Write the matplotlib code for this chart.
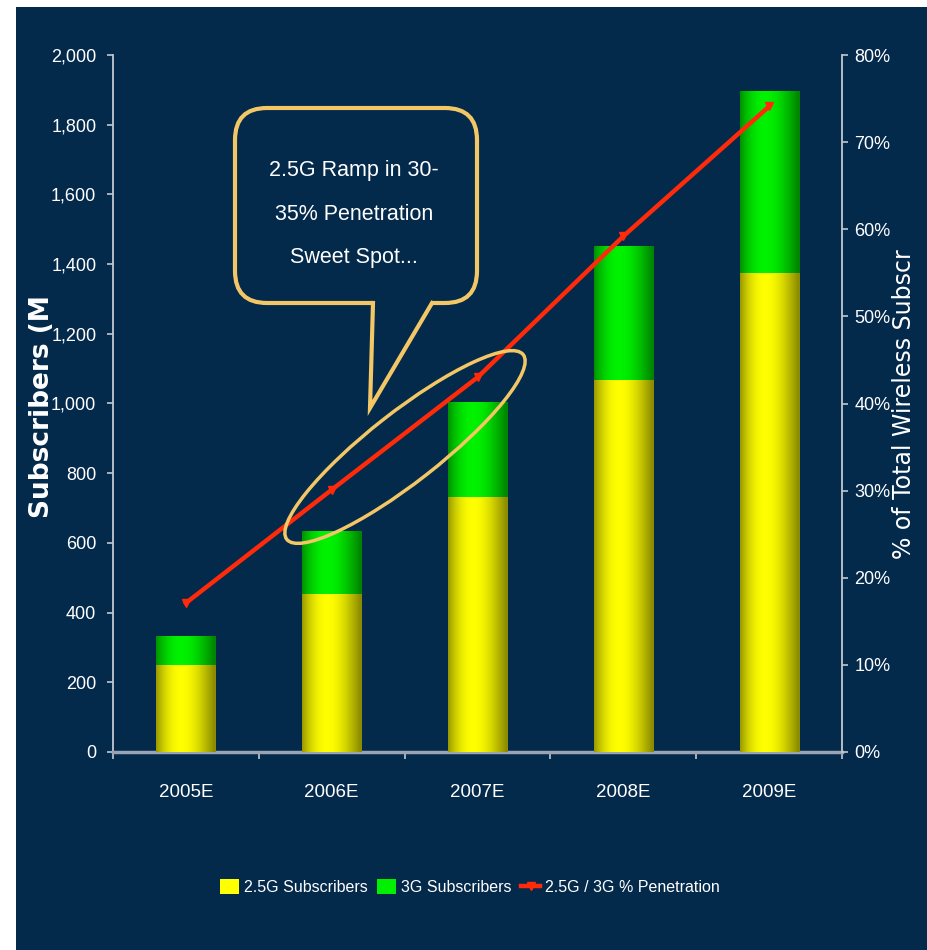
import numpy as np
import matplotlib
matplotlib.use("Agg")
import matplotlib.pyplot as plt
from matplotlib.patches import Rectangle, Ellipse, FancyBboxPatch, Polygon
from matplotlib.ticker import FuncFormatter, FixedLocator

# data
years = ["2005E", "2006E", "2007E", "2008E", "2009E"]
subs_25g = [250, 453, 732, 1067, 1374]
subs_3g = [83, 178, 272, 382, 520]
penetration = [17.1, 30.1, 43.0, 59.2, 74.1]

NAVY = "#03294b"
YELLOW = "#ffff00"
GREEN = "#00f000"
RED = "#ff2a0a"
GOLD = "#f3c766"
AXIS_GREY = "#c3c8d2"

plt.rcParams["font.family"] = ["Liberation Sans", "DejaVu Sans"]

fig = plt.figure(figsize=(9.27, 9.5), dpi=100, facecolor="white")
fig.patches.append(Rectangle((16 / 927, 0), 1, 1 - 7 / 950, transform=fig.transFigure,
                             facecolor=NAVY, edgecolor="none", zorder=-1))

ax = fig.add_axes([113 / 927, 1 - 752 / 950, (842 - 113) / 927, (752 - 55) / 950])
ax.set_facecolor(NAVY)
x = np.arange(len(years))
width = 0.405
b1 = ax.bar(x, subs_25g, width, color=YELLOW, label="2.5G Subscribers", zorder=2)
b2 = ax.bar(x, subs_3g, width, bottom=subs_25g, color=GREEN, label="3G Subscribers", zorder=2)


def shade_bars(bars, rgb):
    # cylinder-like horizontal shading on top of each bar
    t = np.linspace(0, 1, 64)
    f = 0.55 + 0.45 * np.sin(np.pi * np.clip((t + 0.02) / 1.0, 0, 1) ** 0.85)
    img = np.zeros((1, 64, 3))
    for i in range(3):
        img[0, :, i] = rgb[i] * f
    for p in bars:
        x0, y0 = p.get_x(), p.get_y()
        ax.imshow(img, extent=(x0, x0 + p.get_width(), y0, y0 + p.get_height()),
                  aspect="auto", zorder=3, interpolation="bilinear")


shade_bars(b1, (1.0, 1.0, 0.0))
shade_bars(b2, (0.0, 0.95, 0.0))

ax.set_xlim(-0.5, len(years) - 0.5)
ax.set_ylim(0, 2000)
ax.set_yticks(np.arange(0, 2001, 200))
ax.yaxis.set_major_formatter(FuncFormatter(lambda v, p: f"{int(v):,}"))
ax.set_xticks(x)
ax.set_xticklabels(years)
ax.xaxis.set_minor_locator(FixedLocator(np.arange(-0.5, len(years), 1.0)))
ax.tick_params(axis="x", which="major", length=0, pad=23, labelsize=13.5, labelcolor="white")
ax.tick_params(axis="x", which="minor", length=5, width=1.2, color=AXIS_GREY, direction="out")
ax.tick_params(axis="y", length=4, width=1.2, color=AXIS_GREY, labelsize=13,
               labelcolor="white", pad=8)
for s in ["top", "right"]:
    ax.spines[s].set_visible(False)
ax.spines["left"].set_color(AXIS_GREY)
ax.spines["left"].set_linewidth(1.3)
ax.spines["bottom"].set_color("#9aa3b5")
ax.spines["bottom"].set_linewidth(2.5)

ax2 = ax.twinx()
ax2.patch.set_visible(False)
line, = ax2.plot(x, penetration, color=RED, lw=3.2, marker="v", ms=6,
                 label="2.5G / 3G % Penetration", zorder=4)
ax2.set_ylim(0, 80)
ax2.set_yticks(np.arange(0, 81, 10))
ax2.yaxis.set_major_formatter(FuncFormatter(lambda v, p: f"{int(v)}%"))
ax2.tick_params(axis="y", length=4, width=1.2, color=AXIS_GREY, labelsize=13,
                labelcolor="white", pad=5)
for s in ["top", "left", "bottom"]:
    ax2.spines[s].set_visible(False)
ax2.spines["right"].set_color(AXIS_GREY)
ax2.spines["right"].set_linewidth(1.3)

fig.text(42 / 927, 1 - 407 / 950, "Subscribers (M", rotation=90, ha="center", va="center",
         color="white", fontsize=19, fontweight="bold", family=["DejaVu Sans"])
fig.text(904 / 927, 1 - 404 / 950, "% of Total Wireless Subscr", rotation=90, ha="center",
         va="center", color="white", fontsize=17, family=["DejaVu Sans"])

leg = fig.legend(handles=[b1, b2, line], loc="center", bbox_to_anchor=(470 / 927, 1 - 887 / 950),
                 ncol=3, frameon=False, fontsize=11.5, handlelength=1.2, handleheight=1.1,
                 handletextpad=0.3, columnspacing=0.6)
for t in leg.get_texts():
    t.set_color("white")

# callout and ellipse drawn in pixel space on a full-figure overlay
ov = fig.add_axes([0, 0, 1, 1], zorder=5)
ov.set_xlim(0, 927)
ov.set_ylim(950, 0)
ov.axis("off")
box = FancyBboxPatch((235, 108), 242, 195, boxstyle="round,pad=0,rounding_size=32",
                     facecolor=NAVY, edgecolor=GOLD, lw=3)
ov.add_patch(box)
ov.add_patch(Polygon([(373, 300), (432, 300), (370, 408)], closed=True,
                     facecolor=NAVY, edgecolor="none"))
ov.plot([373, 370, 432], [303, 408, 303], color=GOLD, lw=3, solid_joinstyle="miter")
ov.text(354, 214, "2.5G Ramp in 30-\n35% Penetration\nSweet Spot...", ha="center", va="center",
        color="white", fontsize=15.5, linespacing=2.4)
ov.add_patch(Ellipse((405, 447), 300, 70, angle=-38, facecolor="none", edgecolor=GOLD, lw=2.5))

fig.savefig("out.png", dpi=100, facecolor=fig.get_facecolor())
